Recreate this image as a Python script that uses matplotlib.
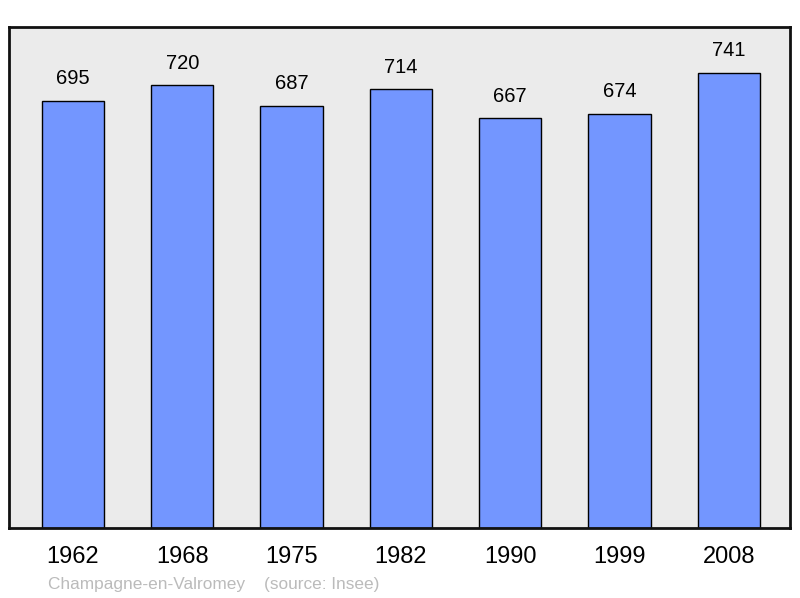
import matplotlib
matplotlib.use("Agg")
from matplotlib import pyplot as plt

# Population data
years = ["1962", "1968", "1975", "1982", "1990", "1999", "2008"]
population = [695, 720, 687, 714, 667, 674, 741]

plt.rcParams['font.family'] = ['Liberation Sans', 'DejaVu Sans']

fig = plt.figure(figsize=(8, 5.98), dpi=100)
ax = fig.add_axes([0.01125, 0.1171, 0.97625, 0.8377])
ax.set_facecolor('#ebebeb')

x = list(range(len(years)))
ax.bar(x, population, width=0.57, color='#7396ff', edgecolor='black', linewidth=1.0, zorder=2)

# Value labels above bars
for xi, v in zip(x, population):
    ax.annotate(str(v), (xi, v), xytext=(0, 9), textcoords='offset points',
                ha='center', va='bottom', fontsize=14.5)

ax.set_xlim(-0.585, 6.56)
ax.set_ylim(0, max(population) * 1.1)
ax.set_xticks(x)
ax.set_xticklabels(years, fontsize=17)
ax.tick_params(axis='x', length=0, pad=13)
ax.set_yticks([])

for s in ax.spines.values():
    s.set_linewidth(2)
    s.set_color('#111111')

fig.text(48 / 800, 1 - 584 / 598, "Champagne-en-Valromey    (source: Insee)",
         fontsize=12.4, color='#bbbbbb', ha='left', va='center')

fig.savefig("out.png", dpi=100)
